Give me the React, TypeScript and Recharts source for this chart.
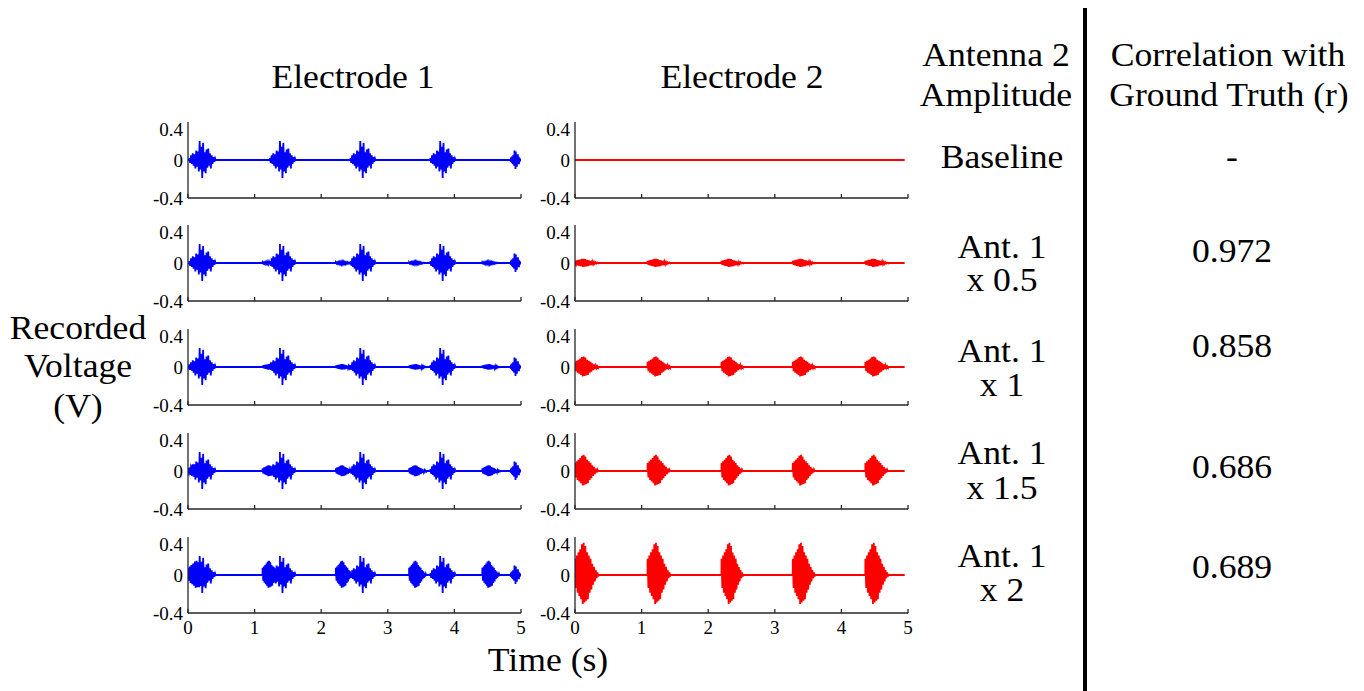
import React from "react";
import { LineChart, Line, XAxis, YAxis } from "recharts";

// hand-read burst waveforms (normalised to the burst peak)
const GT_SHAPE = [
  0.1, -0.15, 0.25, -0.2, 0.35, -0.3, 0.3, -0.45, 0.5, -0.35, 0.45, -0.6, 1.0,
  -0.5, 0.7, -0.95, 0.9, -0.6, 0.4, -0.7, 0.55, -0.4, 0.6, -0.3, 0.35, -0.45,
  0.25, -0.2, 0.15, -0.1, 0.08, -0.05,
];
const ANT_SHAPE = [
  0.5, -0.4, 0.6, -0.55, 0.7, -0.65, 0.8, -0.75, 0.95, -0.9, 1.0, -0.85, 0.9,
  -0.8, 0.7, -0.75, 0.6, -0.55, 0.5, -0.45, 0.35, -0.3, 0.25, -0.2, 0.15, -0.1,
  0.08, -0.05,
];

// ground-truth bursts seen on electrode 1 (start s, end s)
const GT_BURSTS = [
  [0.02, 0.42],
  [1.23, 1.62],
  [2.44, 2.82],
  [3.64, 4.02],
  [4.84, 5.0],
];
const GT_AMPS = [0.2, 0.2, 0.2, 0.2, 0.1];

// antenna 2 bursts leaking into electrode 1
const LEAK_BURSTS = [
  [0.0, 0.35],
  [1.12, 1.38],
  [2.22, 2.48],
  [3.32, 3.58],
  [4.42, 4.68],
];
const LEAK_AMPS = [0, 0.012, 0.03, 0.06, 0.15];

// antenna 2 bursts on electrode 2
const E2_BURSTS = [
  [0.0, 0.35],
  [1.09, 1.43],
  [2.2, 2.52],
  [3.27, 3.6],
  [4.36, 4.7],
];
const E2_AMPS = [0, 0.045, 0.11, 0.17, 0.34];

const TIME_TICKS = [0, 1, 2, 3, 4, 5];
const VOLT_TICKS = [-0.4, 0, 0.4];
const ROW_LABELS = [["Baseline"], ["Ant. 1", "x 0.5"], ["Ant. 1", "x 1"], ["Ant. 1", "x 1.5"], ["Ant. 1", "x 2"]];
const CORRELATIONS = ["-", "0.972", "0.858", "0.686", "0.689"];

const FONT = "'Liberation Serif', 'Times New Roman', serif";
const PLOT_TOPS = [122, 225, 329, 433, 537];
const PLOT_H = 76;
const PLOT_W = 333;
const Y_AXIS_W = 50;

type Pt = { t: number; v: number };

function burstPoints(bursts: number[][], amps: number[], shape: number[]): Pt[] {
  const pts: Pt[] = [];
  bursts.forEach(([s, e], i) => {
    const a = amps[i];
    if (!a) return;
    pts.push({ t: s - 0.001, v: 0 });
    shape.forEach((k, j) => {
      pts.push({ t: s + (j * (e - s)) / (shape.length - 1), v: a * k });
    });
    pts.push({ t: e + 0.001, v: 0 });
  });
  return pts;
}

function buildSeries(parts: Pt[][], tEnd: number): Pt[] {
  const all = ([] as Pt[]).concat(...parts).filter((p) => p.t >= 0 && p.t <= tEnd);
  all.push({ t: 0, v: 0 }, { t: tEnd, v: 0 });
  return all.sort((a, b) => a.t - b.t);
}

function Panel({
  data,
  color,
  left,
  top,
  showTicks,
}: {
  data: Pt[];
  color: string;
  left: number;
  top: number;
  showTicks: boolean;
}) {
  return (
    <div style={{ position: "absolute", left: left - Y_AXIS_W, top: top - 4 }}>
      <LineChart
        width={Y_AXIS_W + PLOT_W + 6}
        height={4 + PLOT_H + 30}
        data={data}
        margin={{ top: 4, right: 6, left: 0, bottom: 0 }}
      >
        <XAxis
          dataKey="t"
          type="number"
          domain={[0, 5]}
          ticks={TIME_TICKS}
          allowDataOverflow
          height={30}
          tickSize={-4}
          tickMargin={12}
          stroke="#262626"
          strokeWidth={1.3}
          tick={{ fill: "#000", fontSize: 19, fontFamily: FONT }}
          tickFormatter={(v) => (showTicks ? String(v) : "")}
        />
        <YAxis
          type="number"
          domain={[-0.4, 0.4]}
          ticks={VOLT_TICKS}
          allowDataOverflow
          width={Y_AXIS_W}
          tickLine={false}
          tickSize={0}
          tickMargin={5}
          stroke="#262626"
          strokeWidth={1.3}
          tick={{ fill: "#000", fontSize: 19, fontFamily: FONT }}
        />
        <Line
          dataKey="v"
          type="linear"
          stroke={color}
          strokeWidth={1.8}
          dot={false}
          isAnimationActive={false}
        />
      </LineChart>
    </div>
  );
}

function Txt({ x, y, children, size = 33 }: { x: number; y: number; children: string; size?: number }) {
  return (
    <text
      transform={`translate(${x} ${y}) scale(1.08 1)`}
      textAnchor="middle"
      fontFamily={FONT}
      fontSize={size}
      fill="#000"
    >
      {children}
    </text>
  );
}

const LABEL_BASELINES = [[168], [258, 291], [362, 396], [464, 499], [567, 601]];
const CORR_BASELINES = [168, 262, 357, 478, 578];

export default function App() {
  const gt = burstPoints(GT_BURSTS, GT_AMPS, GT_SHAPE);
  return (
    <div
      style={{
        position: "absolute",
        left: 0,
        top: 0,
        width: 1364,
        height: 691,
        background: "#fff",
        overflow: "hidden",
      }}
    >
      {PLOT_TOPS.map((top, r) => {
        const e1 = buildSeries([gt, burstPoints(LEAK_BURSTS, LEAK_BURSTS.map(() => LEAK_AMPS[r]), ANT_SHAPE)], 5);
        const e2 = buildSeries([burstPoints(E2_BURSTS, E2_BURSTS.map(() => E2_AMPS[r]), ANT_SHAPE)], 4.95);
        return (
          <React.Fragment key={r}>
            <Panel data={e1} color="#0000ff" left={188} top={top} showTicks={r === 4} />
            <Panel data={e2} color="#ff0000" left={575} top={top} showTicks={r === 4} />
          </React.Fragment>
        );
      })}
      <svg
        width={1364}
        height={691}
        style={{ position: "absolute", left: 0, top: 0, pointerEvents: "none" }}
      >
        <Txt x={353} y={88}>Electrode 1</Txt>
        <Txt x={742} y={88}>Electrode 2</Txt>
        <Txt x={996} y={66}>Antenna 2</Txt>
        <Txt x={996} y={106}>Amplitude</Txt>
        <Txt x={1228} y={66}>Correlation with</Txt>
        <Txt x={1229} y={106}>Ground Truth (r)</Txt>
        <Txt x={78} y={339}>Recorded</Txt>
        <Txt x={78} y={377}>Voltage</Txt>
        <Txt x={78} y={417}>(V)</Txt>
        <Txt x={548} y={671}>Time (s)</Txt>
        {ROW_LABELS.map((lines, r) =>
          lines.map((s, i) => (
            <Txt key={`${r}-${i}`} x={1002} y={LABEL_BASELINES[r][i]}>
              {s}
            </Txt>
          ))
        )}
        {CORRELATIONS.map((c, r) => (
          <Txt key={c + r} x={1232} y={CORR_BASELINES[r]}>
            {c}
          </Txt>
        ))}
        <rect x={1083} y={8} width={4} height={683} fill="#000" />
      </svg>
    </div>
  );
}
